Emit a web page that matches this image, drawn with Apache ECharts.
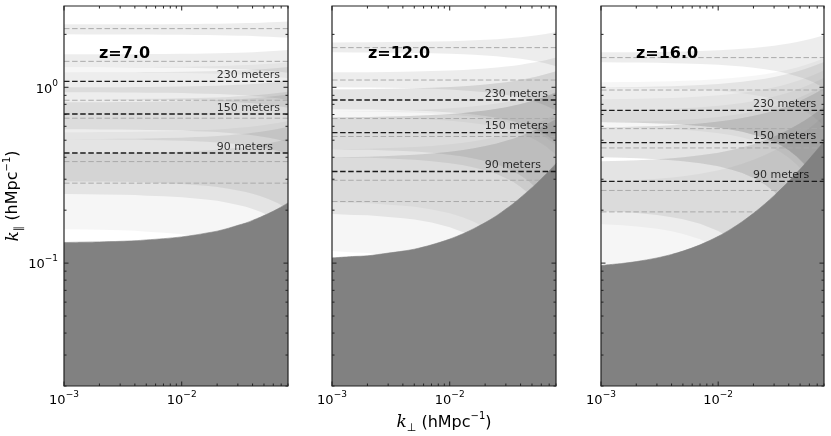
<!DOCTYPE html>
<html><head><meta charset="utf-8">
<script src="https://cdn.jsdelivr.net/npm/echarts@6/dist/echarts.min.js"></script>
<style>html,body{margin:0;padding:0;background:#fff}#c{width:831px;height:436px}</style>
</head><body><div id="c"></div>
<script>
// ---- axis ranges and ticks ----
const X_MIN = 0.001, X_MAX = 0.08, Y_MIN = 0.02, Y_MAX = 2.9;
const X_MAJOR = [0.001, 0.01];
const X_MINOR = [0.002,0.003,0.004,0.005,0.006,0.007,0.008,0.009,0.02,0.03,0.04,0.05,0.06,0.07,0.08];
const Y_MAJOR = [0.1, 1];
const Y_MINOR = [0.02,0.03,0.04,0.05,0.06,0.07,0.08,0.09,0.2,0.3,0.4,0.5,0.6,0.7,0.8,0.9,2];

const PANEL_TITLES = ['z=7.0', 'z=12.0', 'z=16.0'];
const DIST_LABELS = ['230 meters', '150 meters', '90 meters'];
const LABEL_KPERP = 0.02;

// k_perp samples for wedge and band edges
const KP = [0.001, 0.0015, 0.002, 0.003, 0.004, 0.005, 0.007, 0.01, 0.013, 0.016, 0.02, 0.025, 0.03, 0.035, 0.04, 0.047, 0.055, 0.065, 0.08];

// foreground wedge boundary (k_par) per panel
const WEDGE_Z7  = [0.131, 0.1316, 0.132, 0.133, 0.134, 0.1355, 0.1377, 0.141, 0.1445, 0.148, 0.152, 0.158, 0.164, 0.169, 0.175, 0.183, 0.192, 0.203, 0.220];
const WEDGE_Z12 = [0.107, 0.109, 0.110, 0.114, 0.117, 0.120, 0.127, 0.137, 0.147, 0.157, 0.170, 0.186, 0.203, 0.219, 0.236, 0.259, 0.285, 0.318, 0.368];
const WEDGE_Z16 = [0.097, 0.0995, 0.102, 0.107, 0.112, 0.117, 0.127, 0.142, 0.157, 0.172, 0.192, 0.217, 0.242, 0.267, 0.292, 0.327, 0.367, 0.417, 0.492];

// how far band edges open out with k_perp, per panel
const SPREAD_Z7  = [0, 0.0006, 0.001, 0.002, 0.003, 0.005, 0.007, 0.010, 0.014, 0.017, 0.021, 0.027, 0.033, 0.038, 0.044, 0.052, 0.061, 0.072, 0.089];
const SPREAD_Z12 = [0, 0.002, 0.003, 0.007, 0.010, 0.013, 0.020, 0.030, 0.040, 0.050, 0.063, 0.079, 0.096, 0.112, 0.129, 0.152, 0.178, 0.211, 0.261];
const SPREAD_Z16 = [0, 0.0025, 0.005, 0.010, 0.015, 0.020, 0.030, 0.045, 0.060, 0.075, 0.095, 0.120, 0.145, 0.170, 0.195, 0.230, 0.270, 0.320, 0.395];

// shaded bands [low, high] k_par at k_perp = 1e-3
const BANDS_Z7  = [[2.00,2.28],[1.30,1.54],[0.937,1.216],[0.855,1.0],[0.577,0.855],[0.507,0.822],[0.247,0.507],[0.292,0.42]];
const FAINT_Z7  = [[1.216,1.30],[0.156,0.555]];
const BANDS_Z12 = [[1.58,1.80],[1.0,1.216],[0.75,0.974],[0.444,0.675],[0.40,0.675],[0.19,0.40]];
const FAINT_Z12 = [[0.73,0.974],[0.675,0.73],[0.117,0.444],[0.222,0.40]];
const BANDS_Z16 = [[1.387,1.58],[0.633,1.0],[0.40,0.593],[0.1975,0.38]];
const FAINT_Z16 = [[1.0,1.068],[0.633,0.855],[0.633,0.74],[0.593,0.633],[0.10,0.38],[0.1666,0.292],[0.40,0.593]];

// dashed k_par lines
const BLACK_Z7  = [1.082, 0.705, 0.423];
const GRAY_Z7   = [2.156, 1.405, 0.844, 0.667, 0.378, 0.285];
const BLACK_Z12 = [0.847, 0.553, 0.332];
const GRAY_Z12  = [1.681, 1.100, 0.664, 0.525, 0.296, 0.224];
const BLACK_Z16 = [0.740, 0.485, 0.292];
const GRAY_Z16  = [1.475, 0.965, 0.582, 0.452, 0.259, 0.1956];

const PANELS = [
  {wedge: WEDGE_Z7, spread: SPREAD_Z7, bands: BANDS_Z7, faint: FAINT_Z7, black: BLACK_Z7, gray: GRAY_Z7},
  {wedge: WEDGE_Z12, spread: SPREAD_Z12, bands: BANDS_Z12, faint: FAINT_Z12, black: BLACK_Z12, gray: GRAY_Z12},
  {wedge: WEDGE_Z16, spread: SPREAD_Z16, bands: BANDS_Z16, faint: FAINT_Z16, black: BLACK_Z16, gray: GRAY_Z16}
];

const GRID_POS = [{left: 64, width: 224}, {left: 332, width: 224}, {left: 601, width: 223}];
const TITLE_POS = [99, 368, 636];

function rectOf(cs) { return {x: cs.x, y: cs.y, width: cs.width, height: cs.height}; }

function bandSeries(p, bands, spread, alpha) {
  return {
    type: 'custom', xAxisIndex: p, yAxisIndex: p, z: 1, silent: true, animation: false,
    data: bands,
    renderItem: function (params, api) {
      const lo = api.value(0), hi = api.value(1);
      const pts = [];
      for (let i = 0; i < KP.length; i++) pts.push(api.coord([KP[i], Math.min(hi + spread[i], Y_MAX * 1.5)]));
      for (let i = KP.length - 1; i >= 0; i--) pts.push(api.coord([KP[i], Math.max(lo - spread[i], Y_MIN)]));
      return {
        type: 'polygon',
        shape: {points: echarts.graphic.clipPointsByRect(pts, rectOf(params.coordSys))},
        style: {fill: 'rgba(0,0,0,' + alpha + ')', stroke: null}
      };
    }
  };
}

function hLineSeries(p, values, color, width, z) {
  return {
    type: 'custom', xAxisIndex: p, yAxisIndex: p, z: z, silent: true, animation: false,
    data: values.map(v => [X_MIN, v]),
    renderItem: function (params, api) {
      const v = api.value(1);
      const a = api.coord([X_MIN, v]), b = api.coord([X_MAX, v]);
      return {type: 'line', shape: {x1: a[0], y1: a[1], x2: b[0], y2: b[1]},
        style: {stroke: color, lineWidth: width, lineDash: [5.5, 2.6]}};
    }
  };
}

function frameSeries(p) {
  return {
    type: 'custom', xAxisIndex: p, yAxisIndex: p, z: 10, silent: true, animation: false,
    data: [[X_MIN, Y_MIN]],
    renderItem: function (params, api) {
      const cs = params.coordSys;
      const L = cs.x, T = cs.y, R = cs.x + cs.width, B = cs.y + cs.height;
      const ch = [];
      const add = (x1, y1, x2, y2) => ch.push({type: 'line', shape: {x1, y1, x2, y2}, style: {stroke: '#222', lineWidth: 1}});
      X_MAJOR.forEach(v => { const x = api.coord([v, Y_MIN])[0]; add(x, B, x, B - 4.5); add(x, T, x, T + 4.5); });
      X_MINOR.forEach(v => { const x = api.coord([v, Y_MIN])[0]; add(x, B, x, B - 2.5); add(x, T, x, T + 2.5); });
      Y_MAJOR.forEach(v => { const y = api.coord([X_MIN, v])[1]; add(L, y, L + 4.5, y); add(R, y, R - 4.5, y); });
      Y_MINOR.forEach(v => { const y = api.coord([X_MIN, v])[1]; add(L, y, L + 2.5, y); add(R, y, R - 2.5, y); });
      ch.push({type: 'rect', shape: {x: L, y: T, width: cs.width, height: cs.height},
        style: {fill: null, stroke: '#222', lineWidth: 1.2}});
      return {type: 'group', children: ch};
    }
  };
}

function powLabel(v) {
  const e = Math.log10(v);
  const r = Math.round(e);
  if (Math.abs(e - r) > 1e-6) return '';
  return '{b|10}{s|' + (r < 0 ? '\u2212' : '') + Math.abs(r) + '}';
}
const TICK_RICH = {
  b: {fontSize: 13, lineHeight: 17, verticalAlign: 'bottom', fontFamily: 'DejaVu Sans', color: '#000'},
  s: {fontSize: 9, lineHeight: 10, verticalAlign: 'top', fontFamily: 'DejaVu Sans', color: '#000'}
};
const NAME_RICH = {
  i: {fontSize: 17, fontStyle: 'italic', fontFamily: 'DejaVu Serif', lineHeight: 22, verticalAlign: 'middle', color: '#000'},
  t: {fontSize: 16, fontFamily: 'DejaVu Sans', lineHeight: 22, verticalAlign: 'middle', color: '#000'},
  sub: {fontSize: 11, fontFamily: 'DejaVu Sans', lineHeight: 12, verticalAlign: 'bottom', color: '#000'},
  sup: {fontSize: 10, fontFamily: 'DejaVu Sans', lineHeight: 11, verticalAlign: 'top', color: '#000'}
};

const grids = [], xAxes = [], yAxes = [], series = [], titles = [];
PANELS.forEach((P, p) => {
  grids.push({left: GRID_POS[p].left, width: GRID_POS[p].width, top: 6, height: 380,
    containLabel: false, outerBoundsMode: 'none'});
  xAxes.push({
    type: 'log', logBase: 10, gridIndex: p, min: X_MIN, max: X_MAX,
    axisLine: {show: false}, axisTick: {show: false}, splitLine: {show: false}, minorTick: {show: false},
    axisLabel: {formatter: powLabel, rich: TICK_RICH, margin: 4, hideOverlap: false},
    name: p === 1 ? '{i|k}{sub|\u22a5}{t| (hMpc}{sup|\u22121}{t|)}' : '',
    nameLocation: 'middle', nameGap: 24,
    nameTextStyle: {rich: NAME_RICH}
  });
  yAxes.push({
    type: 'log', logBase: 10, gridIndex: p, min: Y_MIN, max: Y_MAX,
    axisLine: {show: false}, axisTick: {show: false}, splitLine: {show: false}, minorTick: {show: false},
    axisLabel: {show: p === 0, formatter: powLabel, rich: TICK_RICH, margin: 6},
    name: p === 0 ? '{i|k}{sub|\u2225}{t| (hMpc}{sup|\u22121}{t|)}' : '',
    nameLocation: 'middle', nameGap: 36, nameRotate: 90,
    nameTextStyle: {rich: NAME_RICH}
  });
  titles.push({text: PANEL_TITLES[p], left: TITLE_POS[p], top: 46, padding: 0,
    textStyle: {fontSize: 16, fontWeight: 'bold', fontFamily: 'DejaVu Sans', color: '#000'}});

  series.push(bandSeries(p, P.bands, P.spread, 0.07));
  series.push(bandSeries(p, P.faint, P.spread, 0.035));
  series.push(hLineSeries(p, P.gray, '#aaaaaa', 1.0, 2));
  series.push({
    type: 'line', xAxisIndex: p, yAxisIndex: p, z: 3, silent: true, animation: false,
    data: KP.map((k, i) => [k, P.wedge[i]]), symbol: 'none', smooth: 0.3,
    lineStyle: {width: 0.6, color: '#818181'},
    areaStyle: {color: '#818181', opacity: 1, origin: 'start'}
  });
  series.push(hLineSeries(p, P.black, '#1a1a1a', 1.3, 4));
  series.push({
    type: 'scatter', xAxisIndex: p, yAxisIndex: p, z: 5, silent: true, animation: false,
    symbolSize: 1, itemStyle: {color: 'rgba(0,0,0,0)'},
    data: P.black.map((v, i) => ({value: [LABEL_KPERP, v], name: DIST_LABELS[i]})),
    label: {show: true, formatter: '{b}', position: [0, 0], align: 'left', verticalAlign: 'bottom',
      offset: [0, 1], fontSize: 11, fontFamily: 'DejaVu Sans', color: '#000', lineHeight: 13}
  });
  series.push(frameSeries(p));
});

const chart = echarts.init(document.getElementById('c'), null, {renderer: 'canvas'});
chart.setOption({
  animation: false, backgroundColor: '#fff',
  title: titles, grid: grids, xAxis: xAxes, yAxis: yAxes, series: series
});
</script></body></html>
